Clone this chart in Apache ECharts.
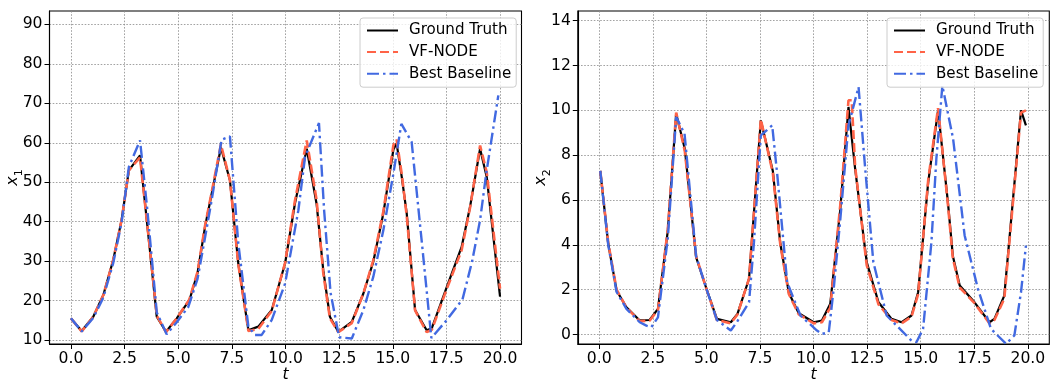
<!DOCTYPE html>
<html>
<head>
<meta charset="utf-8">
<script src="https://cdn.jsdelivr.net/npm/echarts@6/dist/echarts.min.js"></script>
<style>
html,body{margin:0;padding:0;background:#fff;}
#chart{width:1050px;height:383px;}
</style>
</head>
<body>
<div id="chart"></div>
<script>
// ---------- data: left panel (x1) ----------
const tTruth1 = [0.0,0.5,1.04,1.51,1.97,2.36,2.70,3.22,3.68,4.0,4.43,4.93,5.52,5.9,6.25,6.56,6.99,7.41,7.80,8.27,8.73,9.36,9.98,10.44,10.99,11.45,11.76,12.07,12.46,13.09,13.63,14.09,14.56,15.03,15.18,15.42,15.65,16.04,16.58,16.82,17.52,18.21,18.6,19.07,19.38,20.0];
const truthX1 = [15.5,12.3,15.9,21.4,30.3,40.4,53.0,56.8,32.8,15.9,12.1,15.5,20.1,27.0,38.7,47.1,58.8,50.5,29.4,12.5,13.4,17.6,29.4,44.6,58.5,44.5,27.7,15.9,12.1,14.6,21.8,29.8,42.1,58.3,59.8,51.3,42.1,17.6,12.5,13.0,23.5,33.6,43.7,58.5,51.3,21.0];
const vfX1    = [15.5,12.2,15.9,21.4,30.3,40.4,53.0,56.3,33.0,16.2,12.0,15.5,20.3,27.3,39.0,47.5,59.6,50.5,29.2,12.3,12.8,17.4,29.6,45.3,60.6,45.5,27.0,15.5,12.0,14.3,21.8,30.2,42.6,59.4,60.8,52.0,41.5,17.5,12.0,12.6,23.0,32.8,43.5,59.3,52.5,23.0];
const tBase1  = [0.0,0.5,1.04,1.51,1.97,2.36,2.70,3.22,3.56,4.0,4.46,4.93,5.47,5.9,6.25,6.56,7.02,7.41,7.8,8.27,8.58,8.89,9.36,9.98,10.6,10.91,11.56,11.8,12.1,12.5,13.09,13.63,14.09,14.56,15.03,15.4,15.88,16.35,16.8,17.52,18.25,18.7,19.07,19.35,19.92];
const baseX1  = [15.5,12.2,15.6,20.8,29.5,39.8,53.9,60.6,43.0,17.0,11.5,14.5,18.4,25.5,36.0,45.5,60.8,61.6,34.5,13.4,11.3,11.3,15.1,24.3,42.9,56.4,65.0,42.9,22.0,10.7,10.4,17.6,26.0,37.8,52.2,64.8,60.2,35.0,10.5,15.1,20.3,30.0,40.4,52.0,72.0];

// ---------- data: right panel (x2) ----------
const tTruth2 = [0.05,0.42,0.81,1.27,1.89,2.35,2.74,3.2,3.59,3.99,4.52,4.98,5.49,6.14,6.45,6.99,7.54,8.1,8.45,8.85,9.31,10.01,10.39,10.78,11.25,11.63,11.78,11.94,12.48,13.03,13.64,14.11,14.57,14.88,15.35,15.81,16.27,16.5,16.82,17.51,18.21,18.44,18.9,19.68,19.91];
const truthX2 = [7.3,4.05,1.96,1.22,0.63,0.65,1.15,4.64,9.85,8.3,3.45,2.11,0.7,0.55,0.92,2.49,9.55,7.3,4.05,1.85,0.95,0.55,0.63,1.37,5.61,10.15,8.8,7.4,3.23,1.44,0.7,0.55,0.85,1.89,6.8,10.0,5.9,3.5,2.19,1.44,0.55,0.7,1.74,10.0,9.33];
const vfX2    = [7.3,4.1,2.0,1.2,0.6,0.62,1.1,4.7,9.9,8.2,3.5,2.1,0.65,0.5,0.9,2.5,9.6,7.2,4.0,1.8,0.9,0.5,0.55,1.2,5.8,10.45,10.45,7.5,3.1,1.35,0.65,0.5,0.8,1.8,6.9,10.1,5.8,3.4,2.1,1.4,0.5,0.65,1.6,9.9,10.0];
const tBase2  = [0.05,0.42,0.81,1.27,1.89,2.2,2.43,2.74,3.2,3.59,3.98,4.52,4.98,5.49,6.14,6.45,6.99,7.22,7.54,8.07,8.31,8.77,9.39,10.16,10.39,10.71,10.94,11.25,11.63,12.1,12.41,12.79,13.41,14.57,14.8,15.11,15.5,15.73,16.01,16.51,17.05,17.67,18.28,18.98,19.37,19.68,19.91];
const baseX2  = [7.3,4.0,1.9,1.15,0.55,0.4,0.33,0.77,4.3,9.7,8.96,3.5,2.1,0.65,0.18,0.6,1.44,4.12,8.88,9.33,7.1,2.33,0.85,0.18,0.03,0.1,2.04,5.16,9.33,11.04,7.4,3.23,0.85,-0.27,-0.34,0.25,4.12,7.84,11.1,8.74,4.42,2.04,0.25,-0.41,-0.04,1.89,3.97];

// ---------- tick labels ----------
const xTicks  = [0, 2.5, 5, 7.5, 10, 12.5, 15, 17.5, 20];
const y1Ticks = [10, 20, 30, 40, 50, 60, 70, 80, 90];
const y2Ticks = [0, 2, 4, 6, 8, 10, 12, 14];
const names = ['Ground Truth', 'VF-NODE', 'Best Baseline'];

function pairs(ts, vs) { return ts.map((t, i) => [t, vs[i]]); }

const FONT = 'DejaVu Sans';
const FS = 15.6;
const gridLine = { show: true, lineStyle: { color: '#8a8a8a', width: 0.8, type: [1.6, 1.6] } };

function xAxisFor(gi) {
  return {
    type: 'value', gridIndex: gi, min: -1, max: 21,
    name: 't', nameLocation: 'middle', nameGap: 23, nameMoveOverlap: false,
    nameTextStyle: { fontFamily: FONT, fontStyle: 'italic', fontSize: FS, color: '#000' },
    axisLine: { show: true, onZero: false, lineStyle: { color: '#000', width: 1.1 } },
    axisTick: { show: true, length: 5, customValues: xTicks, lineStyle: { color: '#000', width: 1 } },
    axisLabel: { customValues: xTicks, margin: 7, fontFamily: FONT, fontSize: FS, color: '#000',
                 formatter: v => v.toFixed(1) },
    splitLine: gridLine
  };
}
function yAxisFor(gi, mn, mx, ticks, sub) {
  return {
    type: 'value', gridIndex: gi, min: mn, max: mx,
    name: '{i|x}{s|' + sub + '}', nameLocation: 'middle', nameGap: 25, nameRotate: 90, nameMoveOverlap: false,
    nameTextStyle: { rich: {
      i: { fontFamily: FONT, fontStyle: 'italic', fontSize: 16, color: '#000', verticalAlign: 'top', lineHeight: 20 },
      s: { fontFamily: FONT, fontSize: 11, color: '#000', verticalAlign: 'bottom', lineHeight: 20 }
    } },
    axisLine: { show: true, onZero: false, lineStyle: { color: '#000', width: 1.1 } },
    axisTick: { show: true, length: 5, customValues: ticks, lineStyle: { color: '#000', width: 1 } },
    axisLabel: { customValues: ticks, margin: 7, fontFamily: FONT, fontSize: FS, color: '#000' },
    splitLine: gridLine
  };
}

function seriesFor(gi, truthT, truthV, vfV, baseT, baseV) {
  return [
    { name: names[0], type: 'line', xAxisIndex: gi, yAxisIndex: gi, symbol: 'none', animation: false,
      data: pairs(truthT, truthV), lineStyle: { color: '#000000', width: 2.2 }, itemStyle: { color: '#000000' } },
    { name: names[1], type: 'line', xAxisIndex: gi, yAxisIndex: gi, symbol: 'none', animation: false,
      data: pairs(truthT, vfV), lineStyle: { color: '#ff6347', width: 2.6, type: [9, 4] }, itemStyle: { color: '#ff6347' } },
    { name: names[2], type: 'line', xAxisIndex: gi, yAxisIndex: gi, symbol: 'none', animation: false,
      data: pairs(baseT, baseV), lineStyle: { color: '#4169e1', width: 2.4, type: [12, 4, 2.5, 4] }, itemStyle: { color: '#4169e1' } }
  ];
}

function legendFor(left) {
  return {
    data: names, left: left, top: 18, orient: 'vertical',
    itemWidth: 31, itemHeight: 14, itemGap: 6.6,
    padding: [5, 5, 6, 6],
    backgroundColor: 'rgba(255,255,255,0.8)', borderColor: '#cccccc', borderWidth: 1, borderRadius: 3,
    itemStyle: { opacity: 0, borderWidth: 0 },
    textStyle: { fontFamily: FONT, fontSize: 15.1, color: '#000', padding: [0, 0, 0, 6] },
    selectedMode: false
  };
}

const gridBase = { top: 11, bottom: 39, show: true, borderColor: '#000', borderWidth: 1.1,
                   backgroundColor: 'transparent', containLabel: false, outerBoundsMode: 'none' };

const option = {
  animation: false,
  backgroundColor: '#ffffff',
  grid: [
    Object.assign({ left: 49.5, width: 472 }, gridBase),
    Object.assign({ left: 577.8, width: 471.5 }, gridBase)
  ],
  xAxis: [ xAxisFor(0), xAxisFor(1) ],
  yAxis: [ yAxisFor(0, 9.0, 93.4, y1Ticks, '1'), yAxisFor(1, -0.42, 14.43, y2Ticks, '2') ],
  legend: [ legendFor(360), legendFor(887) ],
  series: [].concat(
    seriesFor(0, tTruth1, truthX1, vfX1, tBase1, baseX1),
    seriesFor(1, tTruth2, truthX2, vfX2, tBase2, baseX2)
  )
};

const chart = echarts.init(document.getElementById('chart'), null, { renderer: 'canvas' });
chart.setOption(option);
</script>
</body>
</html>
